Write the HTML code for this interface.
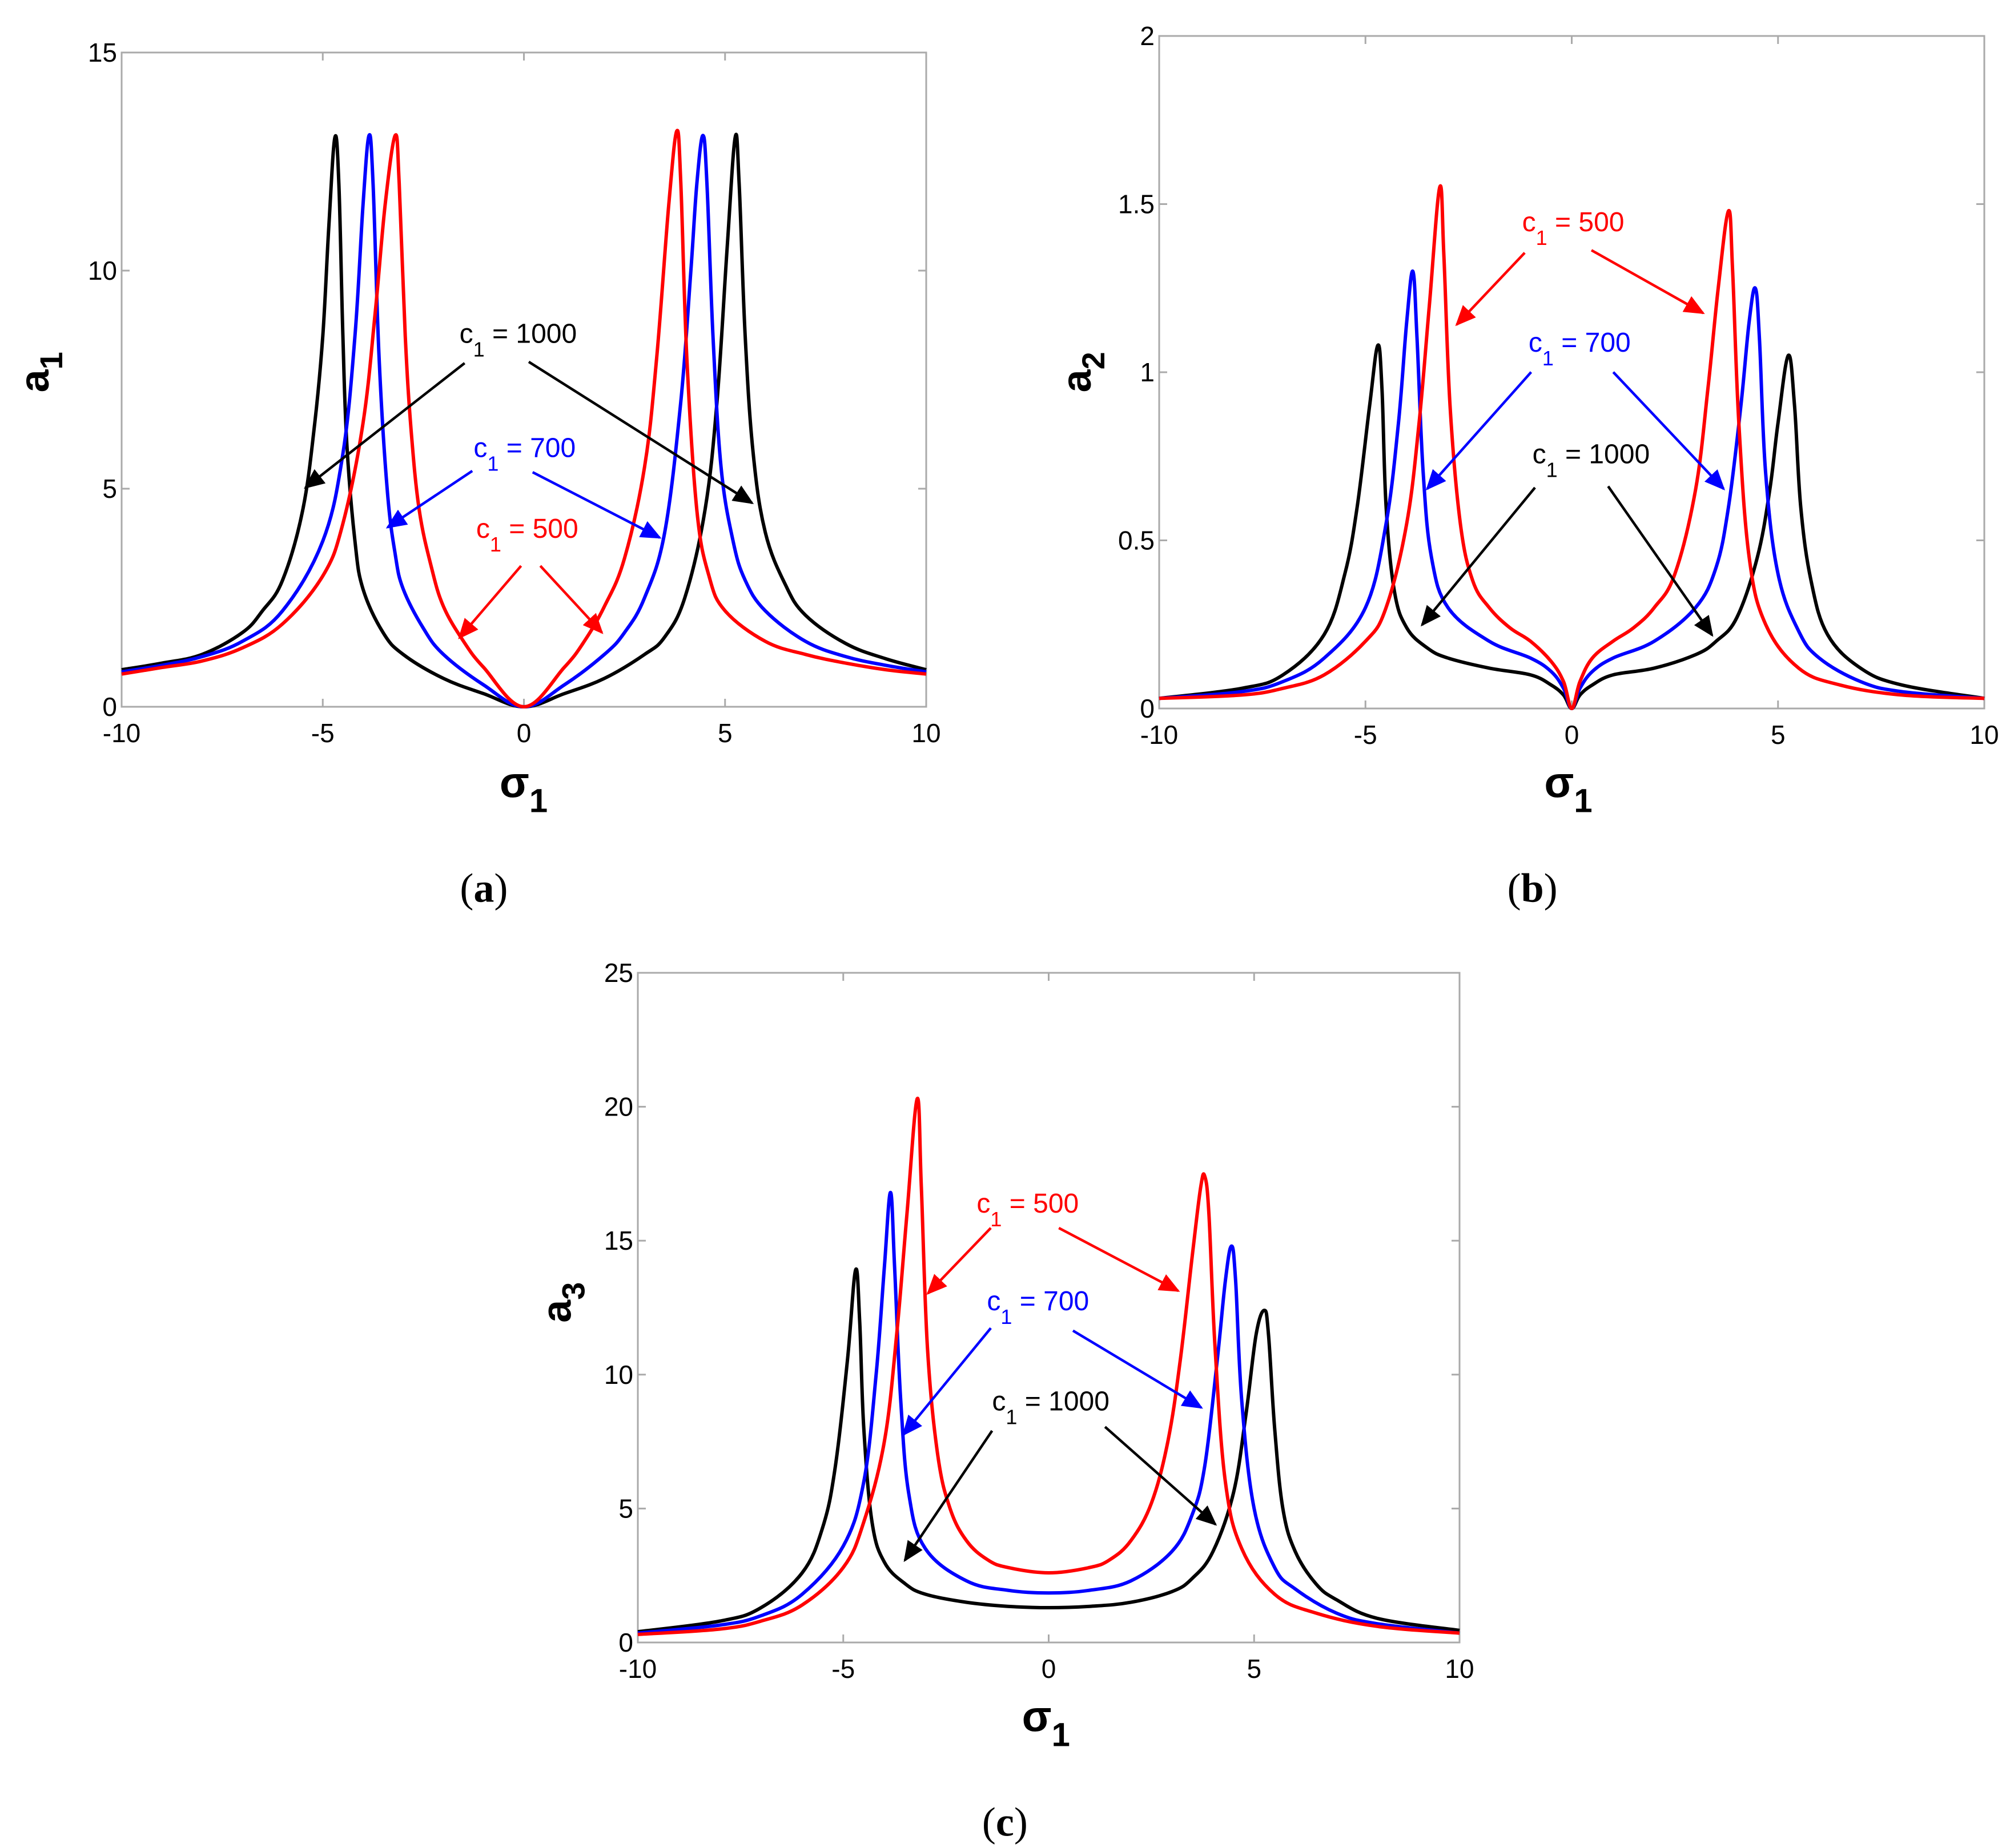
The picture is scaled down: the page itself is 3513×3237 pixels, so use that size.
<!DOCTYPE html>
<html><head><meta charset="utf-8"><style>
html,body{margin:0;padding:0;background:#fff;}
svg{display:block;font-family:"Liberation Sans",sans-serif;}
</style></head><body>
<svg id="fig" width="3513" height="3237" viewBox="0 0 3513 3237" xmlns="http://www.w3.org/2000/svg">
<defs>
<marker id="ah-k" markerWidth="8" markerHeight="7" refX="9" refY="5" orient="auto" viewBox="0 0 10 10" preserveAspectRatio="none"><path d="M0,0 L10,5 L0,10 z" fill="#000"/></marker>
<marker id="ah-b" markerWidth="8" markerHeight="7" refX="9" refY="5" orient="auto" viewBox="0 0 10 10" preserveAspectRatio="none"><path d="M0,0 L10,5 L0,10 z" fill="#0000ff"/></marker>
<marker id="ah-r" markerWidth="8" markerHeight="7" refX="9" refY="5" orient="auto" viewBox="0 0 10 10" preserveAspectRatio="none"><path d="M0,0 L10,5 L0,10 z" fill="#ff0000"/></marker>
</defs>
</svg>
<script>
// ---------- data (a) ----------
const aBlackX=[-10,-9,-8,-7,-6.5,-6,-5.5,-5.2,-5,-4.85,-4.7,-4.6,-4.5,-4.4,-4.2,-4,-3.5,-3,-2,-1,0,1,2,3,3.5,4,4.5,4.8,5.05,5.25,5.35,5.5,5.7,6,6.5,7,8,9,10];
const aBlackY=[0.85,1,1.2,1.7,2.2,2.9,4.5,6.5,8.5,11,13.05,12,8.5,6,3.8,2.7,1.7,1.2,0.65,0.3,0,0.3,0.65,1.2,1.6,2.5,4.5,7,10.5,13.05,12,8.5,5.8,4,2.8,2.1,1.45,1.1,0.85];
const aBlueX=[-10,-9,-8,-7,-6,-5,-4.5,-4.2,-4,-3.85,-3.75,-3.6,-3.4,-3.2,-3,-2.5,-2,-1,0,1,2,2.5,3,3.5,3.9,4.15,4.3,4.45,4.55,4.7,4.9,5.2,5.5,6,7,8,9,10];
const aBlueY=[0.8,0.95,1.15,1.5,2.2,3.8,5.8,8.5,11.5,13.1,12,8,5,3.5,2.7,1.8,1.2,0.5,0,0.5,1.2,1.7,2.5,4,7,10,12,13.1,12,8.5,5.5,3.8,2.9,2.2,1.5,1.15,0.95,0.8];
const aRedX=[-10,-9,-8,-7,-6,-5,-4.5,-4,-3.7,-3.45,-3.2,-3.1,-2.95,-2.8,-2.6,-2.3,-2,-1.5,-1,0,1,1.5,2,2.5,3,3.3,3.6,3.8,3.9,4.05,4.3,4.6,5,6,7,8,9,10];
const aRedY=[0.75,0.9,1.05,1.35,1.9,3,4.2,6.5,9,11.5,13.1,12,8.5,6.3,4.5,3.2,2.3,1.5,0.9,0,0.9,1.5,2.3,3.4,5.5,8,11.5,13.2,12,8,4.5,3,2.2,1.5,1.2,1,0.85,0.75];
// ---------- data (b) ----------
const bBlackX=[-10,-8,-7,-6,-5.5,-5.2,-4.9,-4.7,-4.6,-4.5,-4.3,-4,-3.5,-3,-2,-1,-0.5,-0.2,0,0.2,0.5,1,2,3,3.5,4,4.5,4.8,5,5.25,5.4,5.55,5.8,6.2,7,8,10];
const bBlackY=[0.03,0.06,0.1,0.22,0.4,0.6,0.9,1.08,0.95,0.6,0.35,0.24,0.18,0.15,0.12,0.1,0.07,0.04,0,0.04,0.07,0.1,0.12,0.16,0.2,0.27,0.45,0.65,0.85,1.05,0.9,0.6,0.38,0.22,0.12,0.07,0.03];
const bBlueX=[-10,-8,-7,-6,-5,-4.5,-4.2,-4,-3.85,-3.75,-3.6,-3.4,-3,-2,-1,-0.5,-0.2,0,0.2,0.5,1,2,3,3.5,3.8,4.1,4.3,4.45,4.55,4.7,5,5.5,6,7,8,10];
const bBlueY=[0.03,0.05,0.08,0.15,0.3,0.55,0.85,1.15,1.3,1.1,0.7,0.45,0.3,0.2,0.15,0.11,0.06,0,0.06,0.11,0.15,0.2,0.3,0.42,0.6,0.9,1.15,1.25,1.1,0.7,0.4,0.23,0.15,0.08,0.05,0.03];
const bRedX=[-10,-8,-7,-6,-5,-4.5,-4,-3.7,-3.45,-3.2,-3.1,-2.95,-2.7,-2.4,-2,-1.5,-1,-0.5,-0.2,0,0.2,0.5,1,1.5,2,2.5,3,3.3,3.55,3.8,3.9,4.05,4.3,4.7,5.5,6.5,8,10];
const bRedY=[0.03,0.04,0.06,0.1,0.2,0.3,0.55,0.85,1.2,1.55,1.35,0.9,0.55,0.38,0.3,0.24,0.2,0.14,0.08,0,0.08,0.15,0.2,0.24,0.3,0.4,0.65,0.95,1.25,1.48,1.3,0.85,0.45,0.25,0.12,0.07,0.04,0.03];
// ---------- data (c) ----------
const cBlackX=[-10,-8,-7,-6,-5.5,-5.2,-4.9,-4.7,-4.6,-4.5,-4.3,-4,-3.5,-3,-2,-1,0,1,2,3,3.5,4,4.5,4.8,5.05,5.25,5.35,5.5,5.7,6,6.5,7,8,10];
const cBlackY=[0.4,0.8,1.3,2.6,4.3,6.5,10.5,13.9,12,8,4.5,3,2.2,1.8,1.5,1.35,1.3,1.35,1.5,1.9,2.4,3.4,5.6,8.5,11.5,12.4,11.5,8,5,3.4,2.2,1.6,0.9,0.45];
const cBlueX=[-10,-8,-7,-6,-5,-4.5,-4.2,-4,-3.85,-3.75,-3.6,-3.4,-3,-2,-1,0,1,2,3,3.5,3.8,4.1,4.3,4.45,4.55,4.7,5,5.5,6,7,8,10];
const cBlueY=[0.35,0.65,1,1.8,3.6,6,10,14,16.8,14,9,5.5,3.5,2.3,1.95,1.85,1.95,2.3,3.4,4.8,6.6,10.5,13.5,14.8,13.5,9,5,2.8,2,1.1,0.7,0.35];
const cRedX=[-10,-8,-7,-6,-5,-4.5,-4,-3.7,-3.45,-3.2,-3.1,-2.95,-2.7,-2.4,-2,-1.5,-1,0,1,1.5,2,2.5,2.9,3.2,3.5,3.7,3.8,3.9,4.05,4.3,4.7,5.5,6.5,8,10];
const cRedY=[0.3,0.5,0.8,1.4,2.8,4.5,7.5,11.5,16,20.3,17,11,7,5,3.8,3.1,2.8,2.6,2.8,3.1,3.8,5.2,7.5,10.5,14.5,17,17.4,16,11,6,3.5,1.8,1.1,0.6,0.35];
// ---------- ticks ----------
const xTicks=[-10,-5,0,5,10];
const aYTicks=[0,5,10,15];
const bYTicks=[0,0.5,1,1.5,2];
const cYTicks=[0,5,10,15,20,25];

const NS="http://www.w3.org/2000/svg";
const svg=document.getElementById('fig');
function el(tag,attrs,parent){const e=document.createElementNS(NS,tag);for(const k in attrs)e.setAttribute(k,attrs[k]);(parent||svg).appendChild(e);return e;}
function smooth(pts){
  let d="M"+pts[0][0].toFixed(1)+","+pts[0][1].toFixed(1);
  for(let i=0;i<pts.length-1;i++){
    const p0=pts[Math.max(i-1,0)],p1=pts[i],p2=pts[i+1],p3=pts[Math.min(i+2,pts.length-1)];
    const t=0.18;
    const c1=[p1[0]+(p2[0]-p0[0])*t,p1[1]+(p2[1]-p0[1])*t];
    const c2=[p2[0]-(p3[0]-p1[0])*t,p2[1]-(p3[1]-p1[1])*t];
    d+=" C"+c1[0].toFixed(1)+","+c1[1].toFixed(1)+" "+c2[0].toFixed(1)+","+c2[1].toFixed(1)+" "+p2[0].toFixed(1)+","+p2[1].toFixed(1);
  }
  return d;
}
const S=2.2476;
function panel(cfg){
  const g=el('g',{});
  
  
  const L=cfg.L,R=cfg.R,T=cfg.T,B=cfg.B;
  const sx=v=>L+(v+10)/20*(R-L);
  const sy=v=>B-(v-cfg.ymin)/(cfg.ymax-cfg.ymin)*(B-T);
  const frame=el('rect',{x:L,y:T,width:R-L,height:B-T,fill:'none',stroke:'#aaa','stroke-width':3},g);
  
  
  xTicks.forEach(v=>{
    const x=sx(v);
    el('line',{x1:x,y1:B,x2:x,y2:B-14,stroke:'#aaa','stroke-width':3},g);
    el('line',{x1:x,y1:T,x2:x,y2:T+14,stroke:'#aaa','stroke-width':3},g);
    const t=el('text',{x:x,y:B+62,'font-size':46,'text-anchor':'middle',fill:'#000'},g);
    t.textContent=v;
    
    
  });
  cfg.yTicks.forEach(v=>{
    const y=sy(v);
    el('line',{x1:L,y1:y,x2:L+14,y2:y,stroke:'#aaa','stroke-width':3},g);
    el('line',{x1:R,y1:y,x2:R-14,y2:y,stroke:'#aaa','stroke-width':3},g);
    const t=el('text',{x:L-8,y:y+16,'font-size':46,'text-anchor':'end',fill:'#000'},g);
    t.textContent=v;
    
    
  });
  cfg.series.forEach(s=>{
    const pts=s.x.map((v,i)=>[sx(v),sy(s.y[i])]);
    const p=el('path',{d:smooth(pts),fill:'none',stroke:s.color,'stroke-width':6,'stroke-linejoin':'round'},g);
    
    
  });
  cfg.ann.forEach(a=>{
    const t=el('text',{x:a.tx*S,y:a.ty*S+16,'font-size':48,fill:a.color},g);
    
    
    const ts1=el('tspan',{},t);ts1.textContent='c';
    const ts2=el('tspan',{dy:24,'font-size':36},t);ts2.textContent='1';
    const ts3=el('tspan',{dy:-24},t);ts3.textContent=' = '+a.label;
    a.arrows.forEach(ar=>{
      const l=el('line',{x1:ar[0]*S,y1:ar[1]*S,x2:ar[2]*S,y2:ar[3]*S,stroke:a.color,'stroke-width':4.5,'marker-end':'url(#'+a.m+')'},g);
      
      
    });
  });
  const yl=el('text',{x:0,y:0,'font-size':72,'font-weight':'bold',fill:'#000',transform:'translate('+(cfg.ylx*S+22)+','+(cfg.yly*S)+') rotate(-90)','text-anchor':'middle'},g);
  
  
  const y1=el('tspan',{},yl);y1.textContent='a';
  const y2=el('tspan',{dy:24,'font-size':56},yl);y2.textContent=cfg.ysub;
  const xl=el('text',{x:cfg.xlx*S,y:cfg.xly*S+14,'font-size':76,'font-weight':'bold',fill:'#000','text-anchor':'middle'},g);
  
  
  const x1=el('tspan',{},xl);x1.textContent='σ';
  const x2=el('tspan',{dy:26,'font-size':58},xl);x2.textContent='1';
  const cap=el('text',{x:cfg.capx*S,y:cfg.capy*S+24,'font-size':72,fill:'#000','text-anchor':'middle','font-family':'Liberation Serif, serif'},g);
  
  
  cap.innerHTML='(<tspan font-weight="bold">'+cfg.cap+'</tspan>)';
}
panel({name:'panel-a',L:213,R:1622,T:92,B:1238,ymin:0,ymax:15,yTicks:aYTicks,ysub:'1',ylx:28,yly:290,xlx:408,xly:615,capx:377,capy:692,cap:'a',
  series:[{name:'a1-c1-1000',x:aBlackX,y:aBlackY,color:'#000'},{name:'a1-c1-700',x:aBlueX,y:aBlueY,color:'#0000ff'},{name:'a1-c1-500',x:aRedX,y:aRedY,color:'#ff0000'}],
  ann:[{label:'1000',color:'#000',m:'ah-k',tx:358,ty:260,arrows:[[362,283,238,380],[412,282,586,392]]},
       {label:'700',color:'#0000ff',m:'ah-b',tx:369,ty:349,arrows:[[368,367,302,411],[415,368,514,419]]},
       {label:'500',color:'#ff0000',m:'ah-r',tx:371,ty:412,arrows:[[406,441,358,497],[421,441,469,493]]}]});
panel({name:'panel-b',L:2030,R:3475,T:63,B:1241,ymin:0,ymax:2,yTicks:bYTicks,ysub:'2',ylx:840,yly:290,xlx:1222,xly:615,capx:1194,capy:692,cap:'b',
  series:[{name:'a2-c1-1000',x:bBlackX,y:bBlackY,color:'#000'},{name:'a2-c1-700',x:bBlueX,y:bBlueY,color:'#0000ff'},{name:'a2-c1-500',x:bRedX,y:bRedY,color:'#ff0000'}],
  ann:[{label:'500',color:'#ff0000',m:'ah-r',tx:1186,ty:173,arrows:[[1188,197,1135,253],[1240,195,1327,244]]},
       {label:'700',color:'#0000ff',m:'ah-b',tx:1191,ty:267,arrows:[[1193,290,1112,381],[1257,290,1343,381]]},
       {label:'1000',color:'#000',m:'ah-k',tx:1194,ty:354,arrows:[[1196,380,1108,487],[1253,379,1334,495]]}]});
panel({name:'panel-c',L:1117,R:2556,T:1704,B:2877,ymin:0,ymax:25,yTicks:cYTicks,ysub:'3',ylx:435,yly:1015,xlx:815,xly:1343,capx:783,capy:1420,cap:'c',
  series:[{name:'a3-c1-1000',x:cBlackX,y:cBlackY,color:'#000'},{name:'a3-c1-700',x:cBlueX,y:cBlueY,color:'#0000ff'},{name:'a3-c1-500',x:cRedX,y:cRedY,color:'#ff0000'}],
  ann:[{label:'500',color:'#ff0000',m:'ah-r',tx:761,ty:938,arrows:[[772,957,723,1008],[825,957,918,1006]]},
       {label:'700',color:'#0000ff',m:'ah-b',tx:769,ty:1014,arrows:[[772,1035,704,1118],[836,1037,936,1097]]},
       {label:'1000',color:'#000',m:'ah-k',tx:773,ty:1092,arrows:[[773,1115,705,1216],[861,1112,947,1188]]}]});
</script>
</body></html>
